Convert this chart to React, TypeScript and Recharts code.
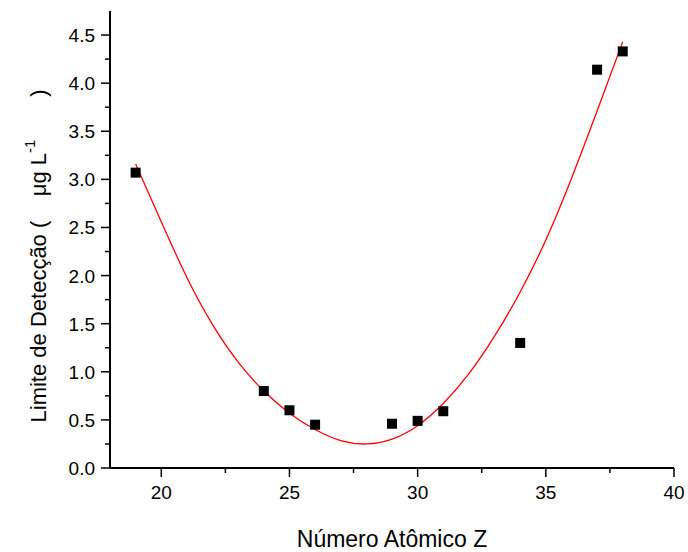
import React from "react";
import { ComposedChart, XAxis, YAxis, Scatter, Line } from "recharts";

// Measured detection limits
const atomicNumbers = [19, 24, 25, 26, 29, 30, 31, 34, 37, 38];
const detectionLimits = [3.07, 0.8, 0.6, 0.45, 0.46, 0.49, 0.59, 1.3, 4.14, 4.33];

// Fitted curve
const fitX = [19, 20, 21, 22, 23, 24, 25, 26, 27, 28, 29, 30, 31, 32, 33, 34, 35, 36, 37, 38];
const fitY = [3.16, 2.56, 1.98, 1.49, 1.1, 0.8, 0.57, 0.4, 0.285, 0.25, 0.3, 0.44, 0.67, 0.98, 1.37, 1.83, 2.37, 3.01, 3.71, 4.43];

const xTicks = [20, 22.5, 25, 27.5, 30, 32.5, 35, 37.5, 40];
const yTicks = [0, 0.25, 0.5, 0.75, 1, 1.25, 1.5, 1.75, 2, 2.25, 2.5, 2.75, 3, 3.25, 3.5, 3.75, 4, 4.25, 4.5];

const points = atomicNumbers.map((x, i) => ({ x, y: detectionLimits[i] }));
const curve = fitX.map((x, i) => ({ x, y: fitY[i] }));

const FONT = "'Liberation Sans', Arial, sans-serif";

const BottomTick = (props: any) => {
  const { x, y, payload } = props;
  const major = payload.value % 5 === 0;
  return (
    <g>
      <line x1={x} x2={x} y1={y} y2={y + (major ? 9 : 5)} stroke="#000" strokeWidth={1.5} />
      {major && (
        <text x={x} y={y + 31} textAnchor="middle" fontSize={19} fontFamily={FONT} fill="#000">
          {payload.value}
        </text>
      )}
    </g>
  );
};

const LeftTick = (props: any) => {
  const { x, y, payload } = props;
  const major = Math.abs(payload.value * 2 - Math.round(payload.value * 2)) < 1e-6;
  return (
    <g>
      <line x1={x} x2={x - (major ? 9 : 5)} y1={y} y2={y} stroke="#000" strokeWidth={1.5} />
      {major && (
        <text x={x - 15} y={y + 7} textAnchor="end" fontSize={19} fontFamily={FONT} fill="#000">
          {payload.value.toFixed(1)}
        </text>
      )}
    </g>
  );
};

const TopTick = (props: any) => {
  const { x, y } = props;
  return <line x1={x} x2={x} y1={y} y2={y + 3} stroke="#333" strokeWidth={1} />;
};

const RightTick = (props: any) => {
  const { x, y } = props;
  return <line x1={x} x2={x - 3} y1={y} y2={y} stroke="#333" strokeWidth={1} />;
};

const SquareMarker = (props: any) => {
  const { cx, cy } = props;
  return <rect x={cx - 5} y={cy - 5} width={10} height={10} fill="#000" />;
};

export default function App() {
  return (
    <div style={{ position: "absolute", left: 0, top: 0, width: 688, height: 552, background: "#fff" }}>
      <ComposedChart width={688} height={552} margin={{ top: 11, right: 14, bottom: 0, left: 0 }}>
        <XAxis
          xAxisId="b"
          dataKey="x"
          type="number"
          domain={[18, 40]}
          ticks={xTicks}
          interval={0}
          allowDataOverflow
          height={84}
          tickSize={0}
          tickMargin={0}
          tickLine={false}
          axisLine={{ stroke: "#000", strokeWidth: 2 }}
          tick={<BottomTick />}
        />
        <XAxis
          xAxisId="t"
          orientation="top"
          dataKey="x"
          type="number"
          domain={[18, 40]}
          ticks={xTicks}
          interval={0}
          allowDataOverflow
          height={0}
          tickSize={0}
          tickMargin={0}
          tickLine={false}
          axisLine={{ stroke: "#333", strokeWidth: 1.5 }}
          tick={<TopTick />}
        />
        <YAxis
          yAxisId="l"
          type="number"
          domain={[0, 4.75]}
          ticks={yTicks}
          interval={0}
          allowDataOverflow
          width={110}
          tickSize={0}
          tickMargin={0}
          tickLine={false}
          axisLine={{ stroke: "#000", strokeWidth: 2 }}
          tick={<LeftTick />}
        />
        <YAxis
          yAxisId="r"
          orientation="right"
          type="number"
          domain={[0, 4.75]}
          ticks={yTicks}
          interval={0}
          allowDataOverflow
          width={0}
          tickSize={0}
          tickMargin={0}
          tickLine={false}
          axisLine={{ stroke: "#333", strokeWidth: 1.5 }}
          tick={<RightTick />}
        />
        <Line
          xAxisId="b"
          yAxisId="l"
          data={curve}
          dataKey="y"
          type="natural"
          stroke="#ff0000"
          strokeWidth={1.3}
          dot={false}
          activeDot={false}
          isAnimationActive={false}
        />
        <Scatter
          xAxisId="b"
          yAxisId="l"
          data={points}
          dataKey="y"
          fill="#000"
          shape={<SquareMarker />}
          isAnimationActive={false}
        />
        <text
          transform="translate(46,256) rotate(-90)"
          textAnchor="middle"
          fontSize={22}
          fontFamily={FONT}
          fill="#000"
        >
          {"Limite de Detecção (\u00a0\u00a0\u00a0\u00a0μg L"}
          <tspan dy={-11} fontSize={15}>-1</tspan>
          <tspan dy={11}>{"\u00a0\u00a0\u00a0\u00a0\u00a0\u00a0\u00a0)"}</tspan>
        </text>
        <text x={392} y={547} textAnchor="middle" fontSize={23} fontFamily={FONT} fill="#000">
          Número Atômico Z
        </text>
      </ComposedChart>
    </div>
  );
}
